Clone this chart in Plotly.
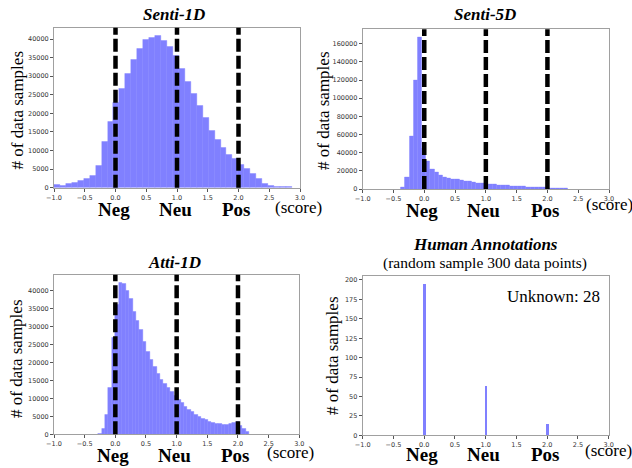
import plotly.graph_objects as go

W, H = 632, 468

# ---------------- data ----------------
senti1d_start, senti1d_width = -1.0, 0.0967
senti1d_counts = [900, 450, 1100, 1400, 1900, 2500, 3300, 5800, 12300, 17800,
                  23000, 26600, 30700, 34500, 37300, 39700, 40400, 41000, 39500, 37900,
                  35400, 32100, 28600, 25400, 22000, 18800, 15400, 12800, 10700, 8900,
                  7900, 6100, 5200, 3800, 2400, 1200, 450, 350, 300, 300]

senti5d_start, senti5d_width = -0.38, 0.0678
senti5d_counts = [1500, 13000, 58000, 120000, 167500, 45000, 31000, 22000, 18000, 15000,
                  13000, 11800, 11000, 10200, 9500, 8800, 8100, 7400, 6800, 6200,
                  5700, 5200, 4800, 4400, 4000, 3700, 3400, 3100, 2800, 2500,
                  2300, 2100, 1900, 1600, 1400, 1200, 1000, 800, 600, 400]

atti1d_start, atti1d_width = -0.28, 0.056
atti1d_counts = [300, 1600, 5400, 13100, 27000, 36000, 42300, 41800, 40000, 37600,
                 34100, 31600, 29200, 25800, 23000, 20900, 18800, 17000, 15100, 14200,
                 13100, 11900, 10700, 9700, 8700, 7700, 6900, 6200, 5500, 4900,
                 4400, 4000, 3600, 3300, 3000, 2850, 2800, 2800, 2850, 3100,
                 3400, 2400, 1500, 600]

human_scores = [0, 1, 2]
human_counts = [195, 63, 14]
human_unknown = 28

class_positions = [0, 1, 2]
class_labels = ["Neg", "Neu", "Pos"]

x_ticks = [-1.0, -0.5, 0.0, 0.5, 1.0, 1.5, 2.0, 2.5, 3.0]
x_ticklabels = ["\u22121.0", "\u22120.5", "0.0", "0.5", "1.0", "1.5", "2.0", "2.5", "3.0"]

titles = ["Senti-1D", "Senti-5D", "Atti-1D", "Human Annotations"]

# ---------------- layout helpers ----------------
def px_x(p):
    return p / W

def px_y(p):
    return 1 - p / H

# plot areas in pixels: (left, right, top, bottom)
areas = [
    (54, 300, 27.7, 187.7),
    (362.7, 609, 29.3, 189),
    (54, 299.3, 274.7, 434.3),
    (362.7, 608.7, 276.3, 435.3),
]

BAR_COLOR = "rgb(128,128,255)"
SERIF = "Liberation Serif, Times New Roman, serif"
SANS = "DejaVu Sans, sans-serif"

fig = go.Figure()

def centers(start, width, n):
    return [start + width * (i + 0.5) for i in range(n)]

hist_sets = [
    (senti1d_start, senti1d_width, senti1d_counts),
    (senti5d_start, senti5d_width, senti5d_counts),
    (atti1d_start, atti1d_width, atti1d_counts),
]

for k, (s, w, c) in enumerate(hist_sets):
    fig.add_trace(go.Bar(
        x=centers(s, w, len(c)), y=c, width=w,
        marker=dict(color=BAR_COLOR, line=dict(width=0.4, color=BAR_COLOR)),
        xaxis="x" + ("" if k == 0 else str(k + 1)),
        yaxis="y" + ("" if k == 0 else str(k + 1)),
        showlegend=False, hoverinfo="skip",
    ))

fig.add_trace(go.Bar(
    x=human_scores, y=human_counts, width=0.04,
    marker=dict(color=BAR_COLOR, line=dict(width=0)),
    xaxis="x4", yaxis="y4", showlegend=False, hoverinfo="skip",
))

y_ranges = [
    [0, max(senti1d_counts) * 1.05],
    [0, max(senti5d_counts) * 1.05],
    [0, max(atti1d_counts) * 1.05],
    [0, max(human_counts) * 1.05],
]
y_dticks = [5000, 20000, 5000, 25]

layout = dict(
    width=W, height=H, autosize=False,
    margin=dict(l=0, r=0, t=0, b=0, pad=0),
    paper_bgcolor="white", plot_bgcolor="white",
    bargap=0, showlegend=False,
)

axis_common = dict(
    showgrid=False, zeroline=False, showline=True, mirror=True,
    linecolor="#a0a0a0", linewidth=1, automargin=False,
    ticks="outside", ticklen=3, tickwidth=1, tickcolor="#555",
    tickfont=dict(family=SANS, size=6.5, color="#333"),
)

for k, (l, r, t, b) in enumerate(areas):
    sfx = "" if k == 0 else str(k + 1)
    layout["xaxis" + sfx] = dict(
        axis_common,
        domain=[px_x(l), px_x(r)], range=[-1, 3],
        tickvals=x_ticks, ticktext=x_ticklabels,
        anchor="y" + sfx,
    )
    layout["yaxis" + sfx] = dict(
        axis_common,
        domain=[px_y(b), px_y(t)], range=y_ranges[k],
        dtick=y_dticks[k], tick0=0, tickformat="d",
        anchor="x" + sfx,
    )

fig.update_layout(**layout)

# dashed class-boundary lines on the three model panels
shapes = []
for k in range(3):
    sfx = "" if k == 0 else str(k + 1)
    for xp in class_positions:
        shapes.append(dict(
            type="line", xref="x" + sfx, yref="y" + sfx + " domain",
            x0=xp, x1=xp, y0=0, y1=1,
            line=dict(color="black", width=4.5, dash="13px,4px"),
            layer="above",
        ))
fig.update_layout(shapes=shapes)

annotations = []

# titles (pixel centers)
title_pos = [(174, 14.5), (485, 15), (175, 262), (485.3, 244)]
for (cx, cy), txt in zip(title_pos, titles):
    annotations.append(dict(
        text="<b><i>%s</i></b>" % txt, x=px_x(cx), y=px_y(cy),
        xref="paper", yref="paper", showarrow=False,
        xanchor="center", yanchor="middle",
        font=dict(family=SERIF, size=17, color="black"),
    ))
annotations.append(dict(
    text="(random sample 300 data points)", x=px_x(485.3), y=px_y(263.3),
    xref="paper", yref="paper", showarrow=False,
    xanchor="center", yanchor="middle",
    font=dict(family=SERIF, size=15.5, color="black"),
))

# y axis labels
ylab_pos = [(16.5, 110), (323, 110), (16, 359), (332, 356)]
for cx, cy in ylab_pos:
    annotations.append(dict(
        text="# of data samples", x=px_x(cx), y=px_y(cy),
        xref="paper", yref="paper", showarrow=False, textangle=-90,
        xanchor="center", yanchor="middle",
        font=dict(family=SERIF, size=17, color="black"),
    ))

# class labels under the axes
cls_y = [210, 210.7, 455, 454]
for k in range(4):
    sfx = "" if k == 0 else str(k + 1)
    for xp, lab in zip(class_positions, class_labels):
        annotations.append(dict(
            text="<b>%s</b>" % lab, x=xp, y=px_y(cls_y[k]),
            xref="x" + sfx, yref="paper", showarrow=False,
            xanchor="center", yanchor="middle", xshift=-2,
            font=dict(family=SERIF, size=19, color="black"),
        ))

# (score) labels
score_pos = [(273, 207.5), (584, 204.5), (265, 452), (583, 450)]
for cx, cy in score_pos:
    annotations.append(dict(
        text="(score)", x=px_x(cx), y=px_y(cy),
        xref="paper", yref="paper", showarrow=False,
        xanchor="left", yanchor="middle",
        font=dict(family=SERIF, size=17, color="black"),
    ))

# unknown count
annotations.append(dict(
    text="Unknown: %d" % human_unknown, x=px_x(602), y=px_y(296),
    xref="paper", yref="paper", showarrow=False,
    xanchor="right", yanchor="middle",
    font=dict(family=SERIF, size=17, color="black"),
))

fig.update_layout(annotations=annotations)

fig.write_html(
    "out.html",
    config={"displayModeBar": False},
    post_script="document.body.style.margin='0';document.body.style.overflow='hidden';",
)
